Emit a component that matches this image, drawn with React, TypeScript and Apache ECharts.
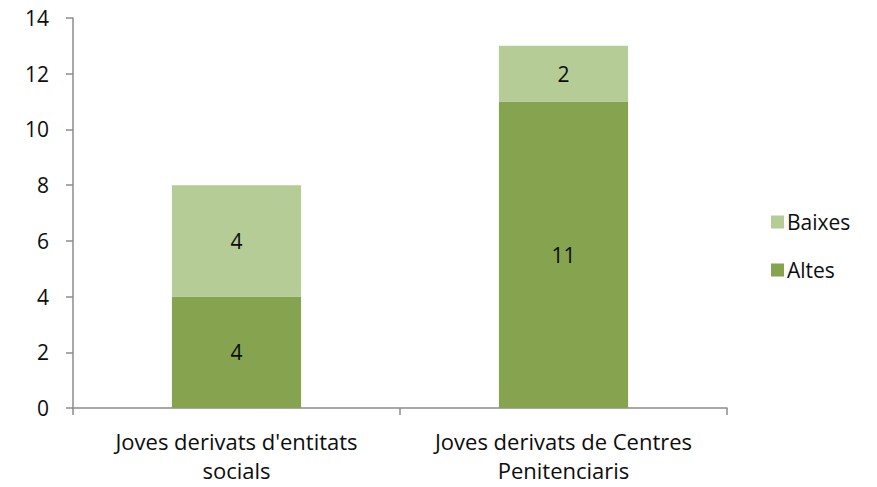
import React, { useEffect, useRef } from "react";
import * as echarts from "echarts";

const categories = ["Joves derivats d'entitats\nsocials", "Joves derivats de Centres\nPenitenciaris"];
const altes = [4, 11];
const baixes = [4, 2];
const yTicks = { min: 0, max: 14, interval: 2 };

export default function App() {
  const ref = useRef<HTMLDivElement>(null);
  useEffect(() => {
    const chart = echarts.init(ref.current!, null, { renderer: "svg" });
    const font = "'Open Sans', sans-serif";
    chart.setOption({
      animation: false,
      textStyle: { fontFamily: font },
      grid: { left: 73, top: 18, right: 150, bottom: 79, containLabel: false },
      legend: {
        orient: "vertical",
        left: 766,
        top: 204,
        itemWidth: 13,
        itemHeight: 13,
        itemGap: 22,
        icon: "rect",
        data: ["Baixes", "Altes"],
        textStyle: { fontSize: 21, lineHeight: 26, color: "#0d0d0d", fontFamily: font, padding: [0, 0, 0, -2] },
      },
      xAxis: {
        type: "category",
        data: categories,
        axisLine: { lineStyle: { color: "#8c8c8c", width: 1.5 } },
        axisTick: { show: true, length: 7, lineStyle: { color: "#8c8c8c", width: 1.5 } },
        axisLabel: { interval: 0, hideOverlap: false, fontSize: 22, color: "#0d0d0d", lineHeight: 29, margin: 18, fontFamily: font },
      },
      yAxis: {
        type: "value",
        min: yTicks.min,
        max: yTicks.max,
        interval: yTicks.interval,
        axisLine: { show: true, lineStyle: { color: "#8c8c8c", width: 1.5 } },
        axisTick: { show: true, length: 7, lineStyle: { color: "#8c8c8c", width: 1.5 } },
        splitLine: { show: false },
        axisLabel: { fontSize: 21, color: "#0d0d0d", margin: 24, fontFamily: font },
      },
      series: [
        {
          name: "Altes",
          type: "bar",
          stack: "t",
          data: altes,
          barWidth: "39.5%",
          itemStyle: { color: "#86a34f" },
          label: { show: true, position: "inside", fontSize: 21, color: "#0d0d0d", fontFamily: font },
        },
        {
          name: "Baixes",
          type: "bar",
          stack: "t",
          data: baixes,
          barWidth: "39.5%",
          itemStyle: { color: "#b6cc97" },
          label: { show: true, position: "inside", fontSize: 21, color: "#0d0d0d", fontFamily: font },
        },
      ],
    });
    return () => chart.dispose();
  }, []);
  return <div ref={ref} style={{ width: 877, height: 487, position: "absolute", left: 0, top: 0 }} />;
}
